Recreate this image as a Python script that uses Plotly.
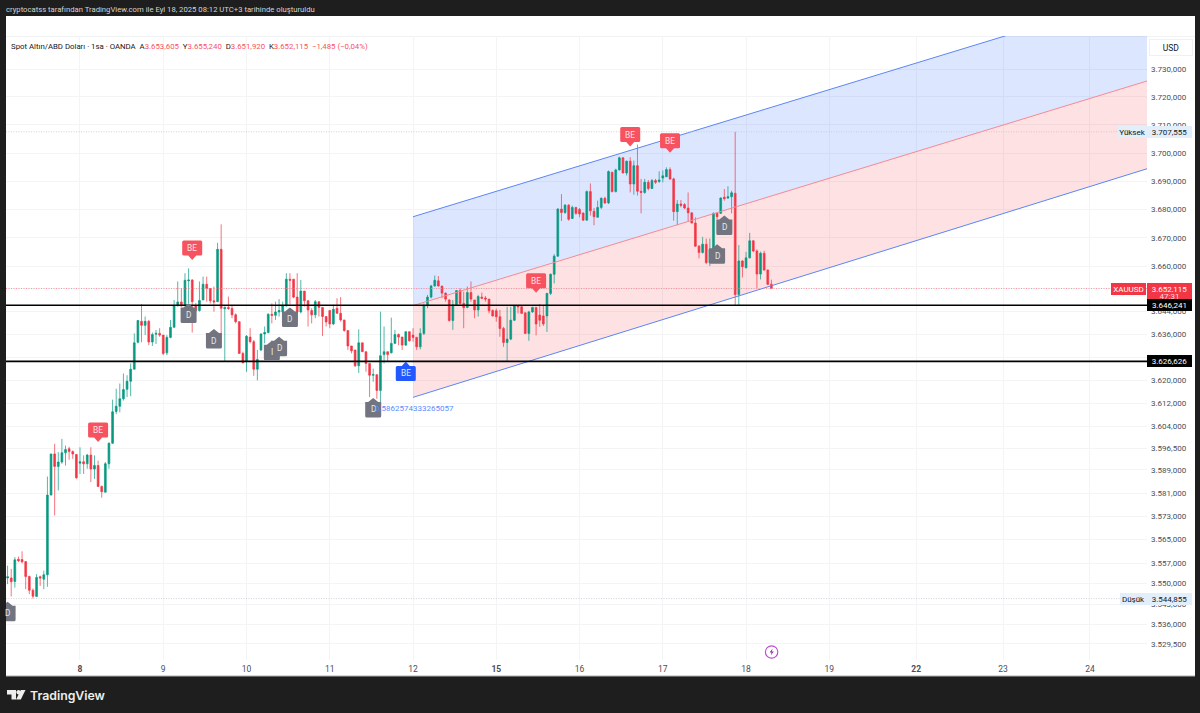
import math
import plotly.graph_objects as go

# ---- price data (hourly bars, bar_index 0 is the open of the day labelled 8)
first_bar = -20
opens = [
    3551.9,3551.9,3550.7,3558.3,3558.2,3557.5,3552.4,3547.7,3545.6,3552.3,3551.5,3553,3580.3,3594.5,3590.2,3591.7,3594.9,3596.3,3595.3,3594.3,
    3591.3,3591.8,3591.1,3594.1,3589.3,3590.5,3583.3,3581.3,3591.1,3598.2,
    3609.2,3611,3613.6,3616.9,3619.7,3623.9,3633.3,3640.6,3639.2,3640.6,
    3633.4,3636.1,3636.4,3635.8,3629.6,3635,3638.5,3646.1,3647.4,3646.2,
    3654.8,3655.1,3646,3644.4,3648.1,3653.6,3652.1,3647.8,3647.5,3665.9,
    3645,3645.5,3645.1,3642.9,3640.5,3629.4,3626.5,3635.1,3633.5,3623.9,
    3630.6,3636.2,3636.7,3643.1,3642.7,3643.9,3643.9,3646,3655.4,3655.4,
    3649.1,3643.9,3651.2,3647.8,3644.4,3642.9,3647.5,3645.5,3642.3,3644.4,
    3639.7,3645.2,3643.4,3641.1,3637.4,3632,3630.6,3625.1,3633.1,3630,
    3625.9,3621.8,3622,3616.5,3629,3630,3629.6,3632.9,3636,3635.1,
    3632.3,3637,3635.8,3635,3631.7,3636.4,3646.1,3649.1,3653,3654.8,
    3653,3650.5,3648.1,3640.9,3646.4,3651.4,3646.9,3645.5,3650.7,3648.1,
    3644.6,3649.1,3648.8,3648.4,3644.4,3644.3,3642.2,3638.1,3633.2,3634.4,
    3641,3646.1,3645.7,3643.6,3636.4,3643.9,3645.5,3642.8,3642.5,3642.5,
    3650.4,3657.1,3663.5,3680.1,3678.9,3681.5,3676.8,3680.7,3680,3678.7,
    3676.2,3686.3,3679.3,3677.2,3680.7,3683.9,3682.3,3693.2,3686.3,3694,
    3698.3,3692.9,3697.1,3689,3695.5,3686.4,3686,3689.6,3687.4,3690.2,
    3689.9,3691.1,3691.6,3694.1,3690.8,3679.2,3681.9,3681.7,3680.5,3678.8,
    3675.2,3667,3664.8,3667.7,3661.2,3665.9,3678.6,3678.6,3684.3,3684,
    3684.5,3685.7,3650,3661.8,3659.4,3662.9,3668.9,3665.3,3657.2,3664.5,3658.6,3653.605,
]
highs = [
    3556.1,3555,3559,3559.2,3561,3557.5,3552.7,3548.3,3553.2,3552.7,3554.4,3586.7,3594.5,3598,3595.1,3599.7,3597.4,3597,3595.7,3594.5,
    3596.8,3594,3594.5,3596.8,3594,3592.2,3583.6,3591.7,3598.5,3613.3,
    3617.1,3618.9,3622.4,3621.8,3625.9,3636.4,3641.1,3646.6,3642.3,3641.1,
    3636.7,3637.6,3638.2,3635.8,3635.8,3641.1,3648.1,3654.6,3652.2,3657.5,
    3659.2,3655.4,3647,3654.6,3656.3,3656.3,3652.2,3652.8,3668.2,3674.7,
    3645.8,3649.3,3646,3643.4,3640.5,3630,3635.8,3638.2,3634.1,3630.6,
    3636.4,3638.8,3643.4,3646.9,3647.5,3648.4,3647.5,3657.5,3657.5,3655.4,
    3657.5,3655.1,3651.2,3648.1,3645.2,3648.1,3647.5,3645.5,3642.3,3644.4,
    3646.4,3648.7,3649.1,3641.1,3637.4,3632,3630.6,3637.8,3633.1,3630,
    3625.9,3624.1,3622,3644,3638.8,3630,3641.9,3637.6,3636.4,3635.2,
    3637,3637,3638.2,3635.2,3638.2,3646.9,3649.9,3653.4,3656.7,3656.5,
    3653,3650.7,3648.4,3648.1,3651.6,3652.2,3651,3652.8,3654.6,3648.1,
    3649.9,3650.7,3649.5,3648.4,3644.8,3645.1,3644.6,3638.7,3645.7,3645.7,
    3646.3,3646.3,3646,3643.6,3644.3,3645.7,3645.5,3646.7,3646.3,3650.6,
    3657.4,3664.2,3680.5,3685.4,3681.9,3681.9,3681.3,3680.9,3680.5,3678.9,
    3686.7,3689.2,3680.5,3683.1,3684.3,3684.5,3693.8,3693.2,3694.4,3698.7,
    3698.5,3697.3,3698.5,3697.3,3703,3690.8,3690.8,3690.4,3690.8,3690.8,
    3693.5,3693.8,3694.9,3694.9,3691.2,3683.3,3683.3,3682.2,3686,3678.8,
    3677.2,3667.4,3670.3,3669.7,3669.7,3678.9,3678.9,3684.3,3687.2,3688.2,
    3686.6,3707.555,3667.4,3662.1,3665,3671.7,3669.1,3665.9,3665.1,3665.4,3658.8,3655.24,
]
lows = [
    3549.8,3545.6,3548.6,3557.3,3556.9,3548.1,3546.4,3544.855,3545.6,3549.2,3548.1,3548.9,3580.3,3573.3,3581.9,3591.1,3590.5,3592.5,3592.8,3585.9,
    3587.6,3587.6,3589.4,3584.8,3585.9,3583.1,3579.4,3581.3,3589.4,3598,
    3608.3,3608.9,3613,3614.2,3614.5,3623.9,3632.9,3633.3,3635.8,3632.3,
    3632,3632.7,3635.2,3628.8,3628.8,3634.7,3638.5,3645.8,3645.8,3645.8,
    3646.9,3636.7,3644,3644,3648.1,3647.5,3646.9,3644,3647.5,3635.2,
    3626.5,3644.6,3641.7,3639.9,3629.4,3626.1,3623,3632.9,3621.6,3620,
    3630.3,3632.9,3636.4,3639.9,3641.1,3642.3,3639.9,3645.8,3646.4,3648.7,
    3643.4,3643.4,3645.8,3638.8,3639.9,3641.7,3642.3,3635.5,3638.8,3638.2,
    3639.3,3643.4,3640.5,3637,3630.6,3629.4,3624.7,3622.6,3630,3623,
    3614.2,3619.5,3613.6,3612.4,3625.9,3626.5,3629.4,3632.9,3632.3,3630.6,
    3632,3633.5,3633.5,3630.6,3630.8,3635.8,3645.2,3648.7,3652.8,3652.8,
    3648.7,3647.5,3640.5,3637.6,3646,3646.4,3638.2,3645.2,3647.5,3641.7,
    3642.3,3648.4,3647.5,3643.4,3642.3,3640.5,3635.2,3631.7,3626.8,3634,
    3640.7,3643.4,3643.2,3636.1,3633.8,3643.6,3635.7,3638.7,3639,3636.9,
    3649.8,3653.9,3663.3,3675.9,3678.4,3676,3676.6,3678.1,3677.2,3676,
    3676,3677.8,3674.4,3677.2,3680.1,3681.9,3681.9,3686,3686,3693.8,
    3692.8,3692,3686,3685.2,3684.9,3678.6,3685.5,3686.7,3687.2,3689,
    3689.4,3689.6,3691.4,3690.4,3676,3674.4,3680.7,3680.1,3675.6,3675,
    3666.8,3662.7,3664.4,3660.7,3660,3665.6,3676.6,3678.4,3683.1,3683.7,
    3678.6,3646.2,3646.2,3656,3659.2,3662.7,3664.9,3652.2,3655.3,3658.4,3653.3,3651.92,
]
closes = [
    3552.3,3550.6,3558.1,3557.8,3557.4,3552.4,3547.7,3545.7,3552.1,3551.9,3553,3580.3,3594.5,3590.2,3591.7,3594.9,3596,3595.3,3594.5,3586.3,
    3591.8,3591.1,3594.1,3589.3,3590.5,3583.3,3581.5,3591.1,3598.2,3609.1,
    3611,3613.6,3616.8,3619.7,3623.9,3633.1,3640.9,3639.2,3640.6,3633.4,
    3636,3636.4,3635.8,3629.4,3635,3638.5,3646.1,3647.4,3646,3655,
    3655.1,3647.5,3644.4,3647.9,3653.6,3652.1,3647.8,3647.4,3665.9,3645.2,
    3645.5,3645.1,3642.9,3640.5,3629.4,3626.1,3635.4,3633.5,3623.9,3627.3,
    3636.2,3636.7,3643.1,3642.7,3643.9,3644.4,3646,3655.4,3655,3649.1,
    3643.9,3651.2,3647.8,3644.6,3642.9,3647.5,3645.5,3642.3,3640.4,3639.7,
    3644.8,3643.4,3641.1,3637.4,3632,3630.3,3625.1,3633.1,3630,3625.9,
    3621.8,3622,3616.5,3628.6,3630,3629,3632.9,3636,3635.1,3632.3,
    3637,3633.8,3635,3631.7,3636.4,3646.1,3649.1,3653,3655,3653,
    3650.5,3648.4,3640.9,3646.4,3651.4,3646.9,3645.4,3650.7,3648.4,3644.6,
    3649.3,3648.7,3648.4,3644.3,3642.5,3642.2,3638.1,3633.2,3634.4,3641,
    3646.1,3645.7,3643.4,3636.4,3643.9,3645.5,3639.7,3641,3639.7,3650.4,
    3657.1,3663.5,3680.1,3678.9,3681.5,3676.5,3680.7,3678.6,3678.4,3676.2,
    3686.3,3679.5,3677.4,3680.7,3683.9,3682.3,3693.4,3686.3,3694,3698.3,
    3692.9,3697.1,3689,3695.5,3686.4,3686,3689.6,3687.4,3690.2,3689.6,
    3690.4,3691.9,3694.1,3690.8,3679.2,3681.9,3681.4,3680.5,3678.8,3675.2,
    3667,3664.8,3667.7,3661.2,3665.9,3678.6,3677.4,3684,3683.8,3684.5,
    3685.9,3650,3661.8,3659.8,3662.9,3668.9,3665.3,3657.2,3664.5,3658.6,3653.6,3652.115,
]
bar_index = list(range(first_bar, first_bar + len(opens)))

# ---- axis labels
date_ticks = [0, 23, 46, 69, 92, 115, 138, 161, 184, 207, 231, 255, 279]
date_labels = ["<b>8</b>", "9", "10", "11", "12", "<b>15</b>", "16", "17", "18", "19", "<b>22</b>", "23", "24"]
price_ticks = [3730, 3720, 3710, 3700, 3690, 3680, 3670, 3660, 3652, 3644, 3636, 3628, 3620, 3612, 3604,
               3596.5, 3589, 3581, 3573, 3565, 3557, 3550, 3543, 3536, 3529.5]
price_labels = ["3.730,000", "3.720,000", "3.710,000", "3.700,000", "3.690,000", "3.680,000", "3.670,000",
                "3.660,000", "3.652,000", "3.644,000", "3.636,000", "3.628,000", "3.620,000", "3.612,000",
                "3.604,000", "3.596,500", "3.589,000", "3.581,000", "3.573,000", "3.565,000", "3.557,000",
                "3.550,000", "3.543,000", "3.536,000", "3.529,500"]

# ---- levels and drawings
support_levels = [3646.241, 3626.626]
high_level = 3707.555
low_level = 3544.855
last_price = 3652.115
channel_x = [92, 294.76]
channel_upper = [3677.4, 3757.5]
channel_mid = [3646.1, 3725.7]
channel_lower = [3614.1, 3694.4]

# signal labels: bar, price at the pointer tip
sell_bars = [5, 31, 126, 152, 163]
sell_prices = [3598.6, 3662.1, 3650.6, 3702.3, 3700.1]
buy_bars = [90]
buy_prices = [3626.6]
flag_bars = [-20, 30, 37, 53, 55, 58, 81, 178, 176]
flag_prices = [3543.8, 3646.9, 3637.9, 3633.8, 3635.2, 3645.5, 3613.9, 3677.8, 3667.7]
flag_texts = ["D", "D", "D", "I", "D", "D", "D", "D", "D"]
stray_value_bar = 81
stray_value_price = 3610.2
stray_value_text = "0.5862574333265057"

# ---- layout constants
W, H = 1200, 713
L, R, T, B = 6, 53, 36, 53
PW, PH = W - L - R, H - T - B
x_range = [-20.44, 294.76]
y_range = [math.log10(3524.0), math.log10(3741.85)]

DARK = "#1e1e1e"
GREEN = "#089981"
RED = "#F23645"
BLUE = "#2962FF"
GREY = "#787B86"
FONT = "Roboto, Liberation Sans, sans-serif"
INK = "#131722"


def fx(px):
    return (px - L) / PW


def fy(py):
    return (H - B - py) / PH


shapes = []
annotations = []


def rect(x0, y0, x1, y1, color, layer="below"):
    shapes.append(dict(type="rect", xref="paper", yref="paper", x0=fx(x0), x1=fx(x1), y0=fy(y0), y1=fy(y1),
                       fillcolor=color, line=dict(width=0), layer=layer))


def px_path(d, color, line=None):
    """Path given in page pixels, anchored to the paper origin (plot bottom-left)."""
    shapes.append(dict(type="path", xref="paper", yref="paper", xsizemode="pixel", ysizemode="pixel",
                       xanchor=0, yanchor=0, path=d, fillcolor=color,
                       line=line or dict(width=0), layer="above"))


def P(x, y):
    return f"{x - L:.2f} {H - B - y:.2f}"


def circle(cx, cy, r):
    k = 0.5523 * r
    return (f"M {P(cx - r, cy)} C {P(cx - r, cy - k)} {P(cx - k, cy - r)} {P(cx, cy - r)} "
            f"C {P(cx + k, cy - r)} {P(cx + r, cy - k)} {P(cx + r, cy)} "
            f"C {P(cx + r, cy + k)} {P(cx + k, cy + r)} {P(cx, cy + r)} "
            f"C {P(cx - k, cy + r)} {P(cx - r, cy + k)} {P(cx - r, cy)} Z")


def page_text(x, y, text, size, color, anchor="left", **kw):
    annotations.append(dict(xref="paper", yref="paper", x=fx(x), y=fy(y), text=text, showarrow=False,
                            xanchor=anchor, yanchor="middle", align=anchor,
                            font=dict(size=size, color=color, family=FONT), **kw))


def price_box(x0, x1, price, text, bg, fg, dy=0, h=12, size=8):
    annotations.append(dict(xref="paper", yref="y", x=fx(x0), y=math.log10(price), yshift=dy, text=text,
                            showarrow=False, xanchor="left", yanchor="middle", align="center",
                            width=x1 - x0, height=h, bgcolor=bg, borderpad=0, borderwidth=0,
                            font=dict(size=size, color=fg, family=FONT)))


def marker(bar, price, path, color, text, text_dy, text_color):
    shapes.append(dict(type="path", xref="x", yref="y", xsizemode="pixel", ysizemode="pixel",
                       xanchor=bar, yanchor=price, path=path, fillcolor=color, line=dict(width=0), layer="above"))
    annotations.append(dict(xref="x", yref="y", x=bar, y=math.log10(price), yshift=text_dy, text=text,
                            showarrow=False, xanchor="center", yanchor="middle",
                            font=dict(size=8.3, color=text_color, family=FONT)))


# ---- page furniture
rect(6, 16, 1195, 676, "#ffffff")
rect(6, 36, 1195, 36.8, "#eceef1")
rect(6, 675.6, 1195, 676.6, "#b0b0b0")

# channel fill (under the candles, over the grid)
def poly(xs, a, b):
    pts = [(xs[0], a[0]), (xs[1], a[1]), (xs[1], b[1]), (xs[0], b[0])]
    return "M " + " L ".join(f"{x},{y}" for x, y in pts) + " Z"


shapes.append(dict(type="path", xref="x", yref="y", path=poly(channel_x, channel_upper, channel_mid),
                   fillcolor="rgba(41,98,255,0.16)", line=dict(width=0), layer="between"))
shapes.append(dict(type="path", xref="x", yref="y", path=poly(channel_x, channel_mid, channel_lower),
                   fillcolor="rgba(242,54,69,0.15)", line=dict(width=0), layer="between"))

fig = go.Figure()
fig.add_trace(go.Candlestick(
    x=bar_index, open=opens, high=highs, low=lows, close=closes, whiskerwidth=0,
    increasing=dict(line=dict(color=GREEN, width=0.7), fillcolor=GREEN),
    decreasing=dict(line=dict(color=RED, width=0.7), fillcolor=RED),
    hoverinfo="skip", showlegend=False))


def line(xs, ys, color, width=1, dash="solid"):
    fig.add_trace(go.Scatter(x=xs, y=ys, mode="lines", line=dict(color=color, width=width, dash=dash),
                             hoverinfo="skip", showlegend=False))


line(channel_x, channel_upper, "#5b86f5", 1)
line(channel_x, channel_mid, "#f58a92", 1)
line(channel_x, channel_lower, "#5b86f5", 1)
line(x_range, [high_level, high_level], "#c6c8ce", 0.8, "1px,1.5px")
line(x_range, [low_level, low_level], "#c6c8ce", 0.8, "1px,1.5px")
line(x_range, [last_price, last_price], "#f7808a", 0.8, "1px,1.5px")
for level in support_levels:
    line(x_range, [level, level], "#000000", 1.6)

# signal labels
SELL = ("M 0 0 L -4 4.5 L -8.5 4.5 Q -10 4.5 -10 6 L -10 18 Q -10 19.5 -8.5 19.5 L 8.5 19.5 "
        "Q 10 19.5 10 18 L 10 6 Q 10 4.5 8.5 4.5 L 4 4.5 Z")
BUY = ("M 0 0 L -4 -4.5 L -8.5 -4.5 Q -10 -4.5 -10 -6 L -10 -18 Q -10 -19.5 -8.5 -19.5 L 8.5 -19.5 "
       "Q 10 -19.5 10 -18 L 10 -6 Q 10 -4.5 8.5 -4.5 L 4 -4.5 Z")
FLAG = ("M 0 0 L 5 -4 L 8 -4 L 8 -18 Q 8 -19.5 6.5 -19.5 L -6.5 -19.5 Q -8 -19.5 -8 -18 L -8 -4 L -5 -4 Z")

for bar, price in zip(sell_bars, sell_prices):
    marker(bar, price, SELL, "#F7525F", "BE", 12, "#ffe3e5")
for bar, price in zip(buy_bars, buy_prices):
    marker(bar, price, BUY, "#2159ff", "BE", -12, "#dfe7ff")
for bar, price, label in zip(flag_bars, flag_prices, flag_texts):
    marker(bar, price, FLAG, "#72747f", label, -11.5, "#e6e7ea")

annotations.append(dict(xref="x", yref="y", x=stray_value_bar, y=math.log10(stray_value_price),
                        text=stray_value_text, showarrow=False, xanchor="left", yanchor="middle",
                        font=dict(size=8, color="#5b8cff", family=FONT)))

# header, legend row, USD box
page_text(4, 9.5, "cryptocatss tarafından TradingView.com ile Eyl 18, 2025 08:12 UTC+3 tarihinde oluşturuldu",
          7.7, "#d4d4d4")
v = '<span style="color:#F7525F">%s</span>'
legend = ("Spot Altın/ABD Doları · 1sa · OANDA  A" + v % "3.653,605" + "  Y" + v % "3.655,240" + "  D" +
          v % "3.651,920" + "  K" + v % "3.652,115" + "  " + v % "−1,485 (−0,04%)")
page_text(9, 46.5, legend, 7.8, INK)
annotations.append(dict(xref="paper", yref="paper", x=fx(1149), y=fy(47), text="USD", showarrow=False,
                        xanchor="left", yanchor="middle", align="center", width=42, height=15,
                        bgcolor="#ffffff", bordercolor="#eef0f3", borderwidth=1, borderpad=0,
                        font=dict(size=8.5, color=INK, family=FONT)))

# price labels on the axis
price_box(1118, 1147, high_level, "Yüksek", "#e3eefb", INK)
price_box(1147, 1192, high_level, "3.707,555", "#e3eefb", INK)
price_box(1120, 1147, low_level, "Düşük", "#e3eefb", INK)
price_box(1147, 1192, low_level, "3.544,855", "#e3eefb", INK)
price_box(1111, 1146, last_price, "XAUUSD", "#F23645", "#ffffff")
price_box(1147, 1192, last_price, "3.652,115", "#F23645", "#ffffff")
price_box(1147, 1192, last_price, "47:31", "#F23645", "#ffd5d8", dy=-8, h=9)
price_box(1147, 1192, support_levels[0], "3.646,241", "#000000", "#ffffff")
price_box(1147, 1192, support_levels[1], "3.626,626", "#000000", "#ffffff")

# TradingView logo
px_path(f"M {P(7, 690)} L {P(16, 690)} L {P(16, 699.5)} L {P(11.5, 699.5)} L {P(11.5, 694.5)} L {P(7, 694.5)} Z", "#eeeeee")
px_path(circle(18.5, 692.2, 2.2), "#eeeeee")
px_path(f"M {P(20.8, 690)} L {P(25.5, 690)} L {P(20.8, 699.5)} L {P(16.1, 699.5)} Z", "#eeeeee")
annotations.append(dict(xref="paper", yref="paper", x=fx(28), y=fy(695), text="TradingView", showarrow=False,
                        xanchor="left", yanchor="middle",
                        font=dict(size=12.3, color="#eeeeee", family="Inter, sans-serif", weight=600)))

# lightning badge
px_path(circle(771.6, 652, 6.2), "rgba(0,0,0,0)", dict(color="#c04fd0", width=1.2))
px_path(f"M {P(772.6, 648.6)} L {P(769.6, 652.6)} L {P(771.6, 652.6)} L {P(770.8, 655.4)} L {P(773.8, 651.4)} "
        f"L {P(771.8, 651.4)} Z", "#8e2fb0")

fig.update_layout(
    width=W, height=H, autosize=False,
    margin=dict(l=L, r=R, t=T, b=B, pad=0),
    paper_bgcolor=DARK, plot_bgcolor="rgba(0,0,0,0)",
    shapes=shapes, annotations=annotations, showlegend=False, hovermode=False,
    font=dict(family=FONT),
    xaxis=dict(range=x_range, rangeslider=dict(visible=False), tickmode="array", tickvals=date_ticks,
               ticktext=date_labels, showgrid=True, gridcolor="#f3f4f6", gridwidth=1, zeroline=False,
               showline=False, ticks="", ticklabelstandoff=2, tickangle=0,
               tickfont=dict(size=8.5, color="#4a4d57", family=FONT)),
    yaxis=dict(type="log", range=y_range, side="right", tickmode="array", tickvals=price_ticks,
               ticktext=price_labels, showgrid=True, gridcolor="#f3f4f6", gridwidth=1, zeroline=False,
               showline=False, ticks="", ticklabelstandoff=3,
               tickfont=dict(size=8, color="#4a4d57", family=FONT)),
)

fig.write_html("out.html", post_script="document.body.style.margin='0';document.body.style.overflow='hidden';",
               config=dict(displayModeBar=False))
